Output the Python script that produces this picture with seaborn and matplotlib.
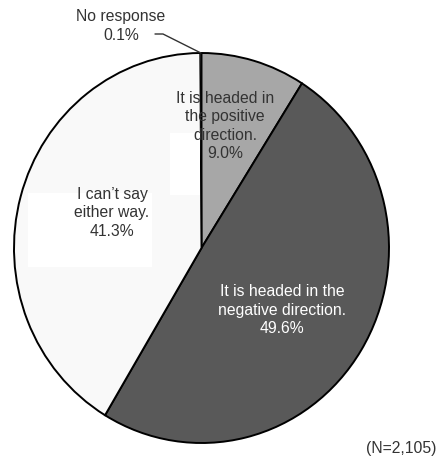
import numpy as np
import matplotlib
matplotlib.use("Agg")
import matplotlib.pyplot as plt
import seaborn as sns
from matplotlib.patches import Rectangle

categories = ["It is headed in\nthe positive\ndirection.",
              "It is headed in the\nnegative direction.",
              "I can\u2019t say\neither way.",
              "No response"]
values = [9.0, 49.6, 41.3, 0.1]
colors = ["#a7a7a7", "#595959", "#f9f9f9", "#f9f9f9"]
note = "(N=2,105)"

sns.set_theme(style="white")
plt.rcParams['font.family'] = ['Liberation Sans', 'DejaVu Sans']

W, H = 442, 459
fig = plt.figure(figsize=(W / 100, H / 100), dpi=100)
ax = fig.add_axes([0, 0, 1, 1])

cx, cy = 201.5, 248.0   # pixel centre (from top)
rx, ry = 187.5, 195.0   # pixel radii

def px(x, y):
    return (x - cx) / rx, (cy - y) / ry

wedges, _ = ax.pie(values, colors=colors, startangle=90, counterclock=False,
                   wedgeprops=dict(edgecolor="black", linewidth=1.4))
wedges[3].set_linewidth(0.7)
ax.set_aspect('auto')
ax.set_xlim((0 - cx) / rx, (W - cx) / rx)
ax.set_ylim((cy - H) / ry, cy / ry)
ax.axis('off')

# faint white patches visible in the original scan
for (x0, y0, x1, y1) in [(28, 193, 152, 267), (170, 133, 200, 195)]:
    a = px(x0, y1)
    b = px(x1, y0)
    ax.add_patch(Rectangle(a, b[0] - a[0], b[1] - a[1], facecolor="white",
                           edgecolor="none", zorder=3))

fs = 11.3
ls = 1.3
lab = [f"{c}\n{v:.1f}%" for c, v in zip(categories, values)]
ax.text(*px(225, 126), lab[0], ha="center", va="center", fontsize=fs,
        color="#333333", linespacing=ls, zorder=5)
ax.text(*px(282, 310), lab[1], ha="center", va="center", fontsize=fs,
        color="white", linespacing=ls, zorder=5)
ax.text(*px(112, 213), lab[2], ha="center", va="center", fontsize=fs,
        color="#333333", linespacing=ls, zorder=5)
ax.text(*px(121, 26), lab[3], ha="center", va="center", fontsize=fs,
        color="#333333", linespacing=ls, zorder=5)

# leader line for the tiny slice
mid = 90 - (sum(values[:3]) + values[3] / 2) / sum(values) * 360
tip = (np.cos(np.radians(mid)), np.sin(np.radians(mid)))
p0 = px(155, 34)
p1 = px(163, 34)
ax.plot([p0[0], p1[0], tip[0]], [p0[1], p1[1], tip[1]], color="#333333",
        lw=1.0, zorder=5)

ax.text(*px(436, 448), note, ha="right", va="center", fontsize=fs,
        color="#333333")

fig.savefig("out.png", dpi=100)
